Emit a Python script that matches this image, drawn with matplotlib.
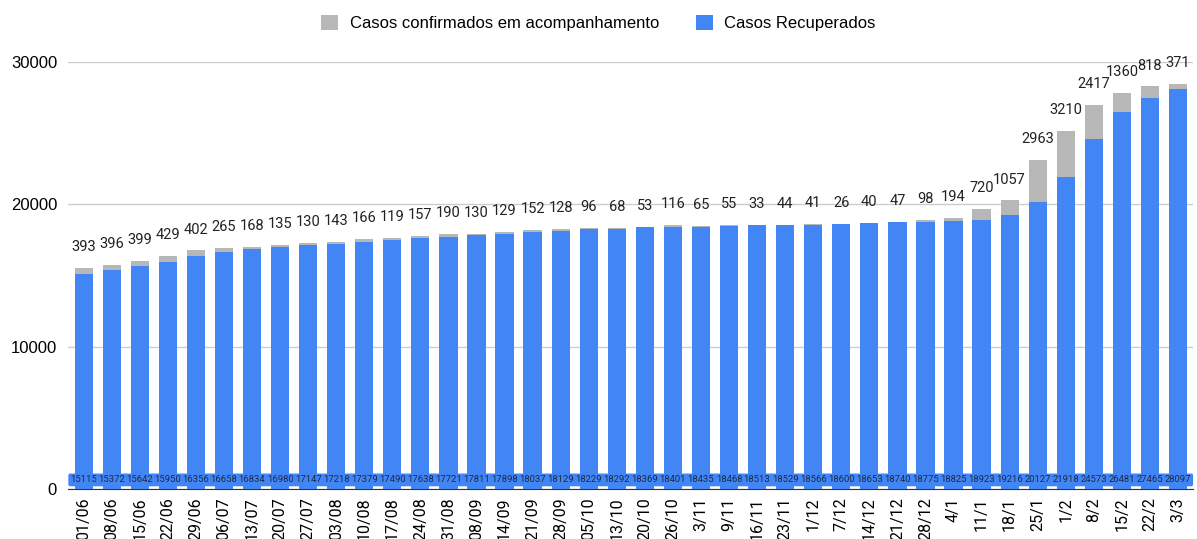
import numpy as np
import matplotlib.pyplot as plt

plt.rcParams['font.family'] = ['Roboto', 'DejaVu Sans']

datas = ['01/06', '08/06', '15/06', '22/06', '29/06', '06/07', '13/07', '20/07', '27/07',
         '03/08', '10/08', '17/08', '24/08', '31/08', '08/09', '14/09', '21/09', '28/09',
         '05/10', '13/10', '20/10', '26/10', '3/11', '9/11', '16/11', '23/11', '1/12',
         '7/12', '14/12', '21/12', '28/12', '4/1', '11/1', '18/1', '25/1', '1/2', '8/2',
         '15/2', '22/2', '3/3']

recuperados = [15115, 15372, 15642, 15950, 16356, 16658, 16834, 16980, 17147, 17218,
               17379, 17490, 17638, 17721, 17811, 17898, 18037, 18129, 18229, 18292,
               18369, 18401, 18435, 18468, 18513, 18529, 18566, 18600, 18653, 18740,
               18775, 18825, 18923, 19216, 20127, 21918, 24573, 26481, 27465, 28097]

acompanhamento = [393, 396, 399, 429, 402, 265, 168, 135, 130, 143, 166, 119, 157, 190,
                  130, 129, 152, 128, 96, 68, 53, 116, 65, 55, 33, 44, 41, 26, 40, 47,
                  98, 194, 720, 1057, 2963, 3210, 2417, 1360, 818, 371]

azul = '#4285F4'
cinza = '#B7B7B7'

fig = plt.figure(figsize=(11.97, 5.39), dpi=100)
ax = fig.add_axes([0.057, 0.093, 0.94, 0.792])

x = np.arange(len(datas))
ax.bar(x, recuperados, width=0.65, color=azul, label='Casos Recuperados', zorder=3)
ax.bar(x, acompanhamento, width=0.65, bottom=recuperados, color=cinza,
       label='Casos confirmados em acompanhamento', zorder=3)

# rótulos
for i in x:
    ax.text(i, 630, str(recuperados[i]), ha='center', va='center', fontsize=6.8,
            color='#1a2a4a', zorder=5,
            bbox=dict(boxstyle='round,pad=0.2', fc=azul, ec='none'))
    ax.annotate(str(acompanhamento[i]), (i, recuperados[i] + acompanhamento[i]),
                xytext=(0, 10), textcoords='offset points', ha='center', va='bottom',
                fontsize=10.5, color='#222222', annotation_clip=False, zorder=5)

ax.set_xlim(-0.55, len(datas) - 0.45)
ax.set_ylim(0, 30000)
ax.set_yticks([0, 10000, 20000, 30000])
ax.set_xticks(x)
ax.set_xticklabels(datas, rotation=90, fontsize=11.5)
for t in ax.get_yticklabels():
    t.set_family('Liberation Sans')
    t.set_fontsize(12)
ax.tick_params(axis='y', length=0, pad=8)
ax.tick_params(axis='x', length=0, pad=6)
ax.grid(axis='y', color='#cccccc', linewidth=1, zorder=0)
for s in ['top', 'right', 'left']:
    ax.spines[s].set_visible(False)
ax.spines['bottom'].set_color('#333333')

h, l = ax.get_legend_handles_labels()
fig.legend(h[::-1], l[::-1], loc='upper center', bbox_to_anchor=(0.5, 1.0), ncol=2,
           frameon=False, prop={'family': 'Liberation Sans', 'size': 12},
           handlelength=1.0, handleheight=1.0, handletextpad=0.7, columnspacing=2.2)

fig.savefig('out.png', dpi=100)
